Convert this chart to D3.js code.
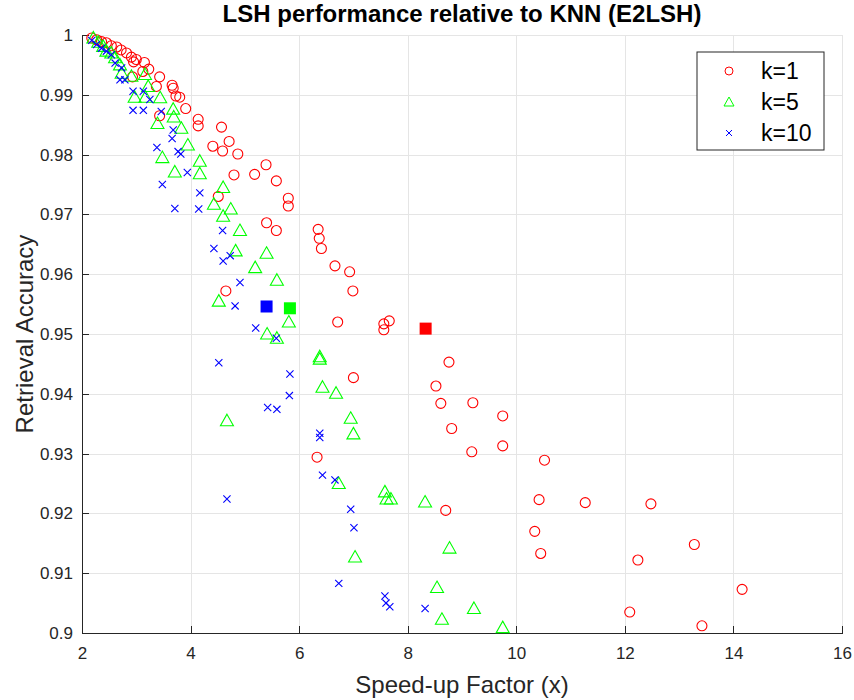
<!DOCTYPE html>
<html lang="en">
<head>
<meta charset="UTF-8">
<title>LSH performance relative to KNN</title>
<script src="https://d3js.org/d3.v7.min.js"></script>
<style>
  body { margin: 0; background: #fff; }
  text { font-family: "Liberation Sans", Arial, Helvetica, sans-serif; }
  .grid line { stroke: #e5e5e5; stroke-width: 1; shape-rendering: crispEdges; }
  .axis path, .axis line { stroke: #262626; stroke-width: 1; shape-rendering: crispEdges; }
  .axis text { fill: #262626; font-size: 17px; }
</style>
</head>
<body>
<div id="chart"></div>
<script>
// k=1 (speed-up, accuracy)
var k1Speed = [2.18, 2.27, 2.36, 2.45, 2.54, 2.64, 2.72, 2.82, 2.91, 3.0, 2.95, 3.15, 3.12, 3.23, 3.43, 2.93,
  3.37, 3.66, 3.68, 3.73, 3.8, 3.91, 4.14, 4.14, 4.57, 4.41, 4.71, 4.59, 4.87, 4.8, 5.18, 5.39, 5.58, 5.8, 5.8,
  5.4, 5.58, 6.35, 6.37, 6.41, 6.66, 6.93, 6.99, 4.65, 4.51, 3.43, 6.71, 7.56, 7.66, 7.56, 8.76, 8.52, 8.61,
  9.2, 8.81, 9.18, 7.0, 6.33, 8.7, 9.75, 9.75, 10.52, 10.42, 11.27, 12.48, 10.34, 10.45, 13.28, 12.24, 14.16,
  12.09, 13.42];
var k1Acc = [0.9995, 0.9992, 0.9989, 0.9987, 0.9982, 0.998, 0.9975, 0.997, 0.9963, 0.9959, 0.9955, 0.9954,
  0.9939, 0.9943, 0.993, 0.993, 0.9914, 0.9916, 0.9911, 0.9898, 0.9896, 0.9877, 0.9859, 0.9848, 0.9846, 0.9814,
  0.9822, 0.9806, 0.9801, 0.9766, 0.9767, 0.9783, 0.9756, 0.9727, 0.9714, 0.9686, 0.9673, 0.9675, 0.966, 0.9643,
  0.9614, 0.9604, 0.9572, 0.9572, 0.973, 0.9865, 0.952, 0.9517, 0.9522, 0.9507, 0.9453, 0.9413, 0.9384, 0.9385,
  0.9342, 0.9303, 0.9427, 0.9294, 0.9205, 0.9363, 0.9313, 0.9289, 0.9223, 0.9218, 0.9216, 0.917, 0.9133, 0.9148,
  0.9122, 0.9073, 0.9035, 0.9012];

// k=5
var k5Speed = [2.21, 2.3, 2.39, 2.45, 2.54, 2.61, 2.7, 2.73, 2.91, 3.16, 3.22, 3.44, 2.97, 3.17, 3.68, 3.69,
  3.39, 3.83, 3.95, 3.48, 4.17, 3.71, 4.17, 4.6, 4.43, 4.74, 4.6, 4.91, 4.83, 5.4, 5.19, 5.59, 4.52, 5.81, 5.41,
  5.59, 6.38, 6.38, 6.43, 6.68, 4.67, 6.95, 7.0, 6.73, 7.58, 7.61, 7.69, 8.32, 7.03, 8.77, 8.54, 9.22, 8.63, 9.75];
var k5Acc = [0.9995, 0.9988, 0.9981, 0.9973, 0.997, 0.9962, 0.995, 0.9936, 0.9931, 0.9934, 0.9914, 0.9895,
  0.9896, 0.9896, 0.9876, 0.9863, 0.9852, 0.9844, 0.9816, 0.9795, 0.9789, 0.9771, 0.9768, 0.9745, 0.9717, 0.9709,
  0.9697, 0.9673, 0.9639, 0.9635, 0.9611, 0.959, 0.9555, 0.952, 0.95, 0.9493, 0.9462, 0.9458, 0.9411, 0.9401,
  0.9355, 0.9359, 0.9333, 0.925, 0.9236, 0.9224, 0.9224, 0.9219, 0.9127, 0.9142, 0.9076, 0.9041, 0.9023, 0.9009];

// k=10
var k10Speed = [2.18, 2.27, 2.36, 2.45, 2.54, 2.61, 2.73, 2.7, 2.79, 2.94, 3.13, 3.25, 2.94, 3.13, 3.46, 3.68,
  3.66, 3.38, 3.77, 3.82, 3.48, 3.94, 4.17, 3.71, 4.15, 4.59, 4.43, 4.6, 4.73, 4.91, 4.82, 5.2, 5.58, 4.52, 5.83,
  5.82, 5.42, 5.59, 6.38, 6.38, 6.43, 6.66, 4.67, 6.95, 7.01, 6.73, 7.58, 7.6, 7.67, 8.32];
var k10Acc = [0.9991, 0.9984, 0.9978, 0.9973, 0.9967, 0.9953, 0.9945, 0.9925, 0.9925, 0.9906, 0.9906, 0.9892,
  0.9874, 0.9874, 0.9872, 0.9841, 0.9827, 0.9812, 0.9805, 0.9801, 0.975, 0.977, 0.9736, 0.971, 0.9709, 0.9673,
  0.9643, 0.9622, 0.9631, 0.9586, 0.9547, 0.951, 0.9493, 0.9452, 0.9433, 0.9397, 0.9377, 0.9374, 0.9334, 0.9327,
  0.9264, 0.9256, 0.9224, 0.9207, 0.9176, 0.9083, 0.9062, 0.905, 0.9044, 0.9041];

// filled squares (mean of each group), order k=1, k=5, k=10
var meanSpeed = [8.33, 5.83, 5.4];
var meanAcc = [0.9509, 0.9543, 0.9546];

var seriesNames = ["k=1", "k=5", "k=10"];
var seriesColors = ["#ff0000", "#00ff00", "#0000ff"];
var xTicks = [2, 4, 6, 8, 10, 12, 14, 16];
var yTicks = [0.9, 0.91, 0.92, 0.93, 0.94, 0.95, 0.96, 0.97, 0.98, 0.99, 1];

var W = 854, H = 700;
var margin = {top: 35, right: 12, bottom: 67, left: 82};
var width = W - margin.left - margin.right,
    height = H - margin.top - margin.bottom;

var x = d3.scaleLinear().domain([2, 16]).range([0, width]);
var y = d3.scaleLinear().domain([0.9, 1]).range([height, 0]);

var svg = d3.select("#chart").append("svg")
    .attr("width", W)
    .attr("height", H);

var g = svg.append("g")
    .attr("transform", "translate(" + margin.left + "," + margin.top + ")");

// grid
var grid = g.append("g").attr("class", "grid");
grid.selectAll(".gx").data(xTicks).enter().append("line")
    .attr("x1", function(d) { return Math.round(x(d)) + 0.5; })
    .attr("x2", function(d) { return Math.round(x(d)) + 0.5; })
    .attr("y1", 0).attr("y2", height);
grid.selectAll(".gy").data(yTicks).enter().append("line")
    .attr("y1", function(d) { return Math.round(y(d)) + 0.5; })
    .attr("y2", function(d) { return Math.round(y(d)) + 0.5; })
    .attr("x1", 0).attr("x2", width);

// axes, ticks pointing inwards like matlab
g.append("g")
    .attr("class", "axis")
    .attr("transform", "translate(0," + height + ")")
    .call(d3.axisBottom(x).tickValues(xTicks).tickSizeInner(-7).tickSizeOuter(0).tickPadding(14)
      .tickFormat(d3.format("d")));

g.append("g")
    .attr("class", "axis")
    .call(d3.axisLeft(y).tickValues(yTicks).tickSizeInner(-7).tickSizeOuter(0).tickPadding(9)
      .tickFormat(function(d) { return d === 1 ? "1" : d3.format(".2~f")(d); }));

var sym = {
  circle: function(sel, c) {
    sel.append("circle").attr("r", 5).attr("fill", "none").attr("stroke", c).attr("stroke-width", 1.1);
  },
  tri: function(sel, c) {
    sel.append("path").attr("d", "M0,-6.5L6.5,5L-6.5,5Z").attr("fill", "none").attr("stroke", c).attr("stroke-width", 1.1);
  },
  cross: function(sel, c) {
    sel.append("path").attr("d", "M-3.6,-3.6L3.6,3.6M-3.6,3.6L3.6,-3.6").attr("stroke", c).attr("stroke-width", 1.1);
  }
};

function drawSeries(xs, ys, kind, color) {
  var pts = xs.map(function(v, i) { return [v, ys[i]]; });
  var marks = g.append("g").selectAll("g").data(pts).enter().append("g")
      .attr("transform", function(d) { return "translate(" + x(d[0]) + "," + y(d[1]) + ")"; });
  sym[kind](marks, color);
}

drawSeries(k1Speed, k1Acc, "circle", seriesColors[0]);
drawSeries(k5Speed, k5Acc, "tri", seriesColors[1]);
drawSeries(k10Speed, k10Acc, "cross", seriesColors[2]);

// the filled squares
g.append("g").selectAll("rect").data(meanSpeed).enter().append("rect")
    .attr("x", function(d) { return x(d) - 6; })
    .attr("y", function(d, i) { return y(meanAcc[i]) - 6; })
    .attr("width", 12).attr("height", 12)
    .attr("fill", function(d, i) { return seriesColors[i]; });

// title + labels
svg.append("text")
    .attr("x", margin.left + width / 2).attr("y", 22)
    .attr("text-anchor", "middle")
    .style("font-size", "24px").style("font-weight", "bold").attr("fill", "#000")
    .text("LSH performance relative to KNN (E2LSH)");

svg.append("text")
    .attr("x", margin.left + width / 2).attr("y", 693)
    .attr("text-anchor", "middle")
    .style("font-size", "24px").attr("fill", "#262626")
    .text("Speed-up Factor (x)");

svg.append("text")
    .attr("transform", "translate(33," + (margin.top + height / 2) + ") rotate(-90)")
    .attr("text-anchor", "middle")
    .style("font-size", "24px").attr("fill", "#262626")
    .text("Retrieval Accuracy");

// legend
var lg = svg.append("g").attr("transform", "translate(697,52)");
lg.append("rect").attr("width", 127).attr("height", 98)
    .attr("fill", "#fff").attr("stroke", "#262626").attr("stroke-width", 1);
var kinds = ["circle", "tri", "cross"];
var items = lg.selectAll(".item").data(seriesNames).enter().append("g")
    .attr("transform", function(d, i) { return "translate(0," + (19 + i * 31) + ")"; });
items.each(function(d, i) {
  var m = d3.select(this).append("g").attr("transform", "translate(32,0)");
  if (kinds[i] === "circle") m.append("circle").attr("r", 4).attr("fill", "none").attr("stroke", seriesColors[i]);
  if (kinds[i] === "tri") m.append("path").attr("d", "M0,-5L5,4L-5,4Z").attr("fill", "none").attr("stroke", seriesColors[i]);
  if (kinds[i] === "cross") m.append("path").attr("d", "M-3,-3L3,3M-3,3L3,-3").attr("stroke", seriesColors[i]);
});
items.append("text")
    .attr("x", 64).attr("y", 8)
    .style("font-size", "23px").attr("fill", "#000")
    .text(function(d) { return d; });
</script>
</body>
</html>
